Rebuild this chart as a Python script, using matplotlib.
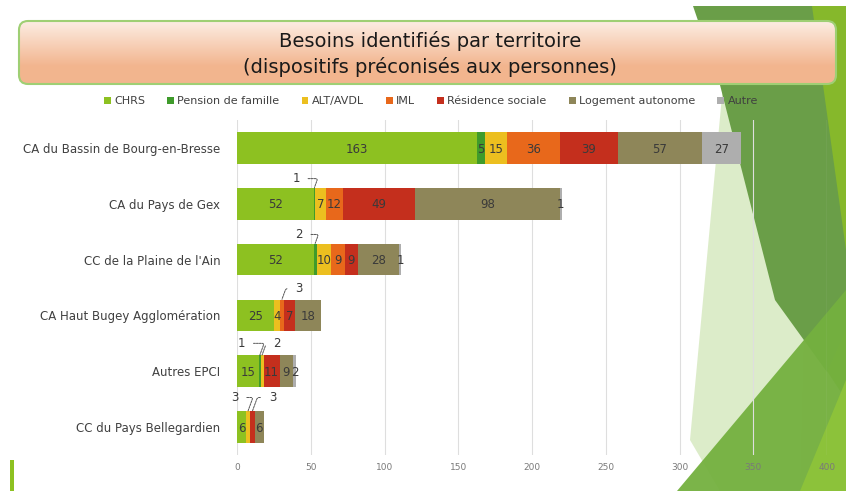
import matplotlib
matplotlib.use("Agg")
import matplotlib.pyplot as plt
import numpy as np
from matplotlib.patches import FancyBboxPatch, Polygon

plt.rcParams['font.family'] = ['DejaVu Sans']

territoires = ["CA du Bassin de Bourg-en-Bresse", "CA du Pays de Gex",
               "CC de la Plaine de l'Ain", "CA Haut Bugey Agglomération",
               "Autres EPCI", "CC du Pays Bellegardien"]
categories = ["CHRS", "Pension de famille", "ALT/AVDL", "IML",
              "Résidence sociale", "Logement autonome", "Autre"]
chrs = [163, 52, 52, 25, 15, 6]
pension = [5, 1, 2, 0, 1, 0]
alt = [15, 7, 10, 4, 2, 3]
iml = [36, 12, 9, 3, 0, 0]
residence = [39, 49, 9, 7, 11, 3]
logement = [57, 98, 28, 18, 9, 6]
autre = [27, 1, 1, 0, 2, 0]
couleurs = ["#8dc121", "#3f9b2b", "#ecbf1f", "#e8681b", "#c42f1d", "#8e8659", "#aeaeae"]
xticks = [0, 50, 100, 150, 200, 250, 300, 350, 400]

series = [chrs, pension, alt, iml, residence, logement, autre]

# (ligne, serie) : valeurs affichées avec une ligne de rappel
rappels = {(1, 1): (40, -0.45), (2, 1): (42, -0.45), (3, 3): (42, -0.48),
           (4, 1): (3, -0.5), (4, 2): (27, -0.5), (5, 2): (-1.5, -0.53),
           (5, 4): (24, -0.53)}

W, H = 846, 491
fig = plt.figure(figsize=(W / 100, H / 100), dpi=100)

# fond de la diapo (formes vertes) et cadre du titre
bg = fig.add_axes([0, 0, 1, 1], zorder=0)
bg.axis("off")
formes = [
    ([(812, 6), (846, 6), (846, 491), (800, 491)], "#86b82b", 1.0),
    ([(723, 85), (800, 330), (846, 400), (846, 491), (720, 491), (690, 440)], "#d9eac4", 0.9),
    ([(693, 6), (812, 6), (846, 250), (846, 330), (827, 372), (775, 300), (720, 85)],
     "#6a9e48", 1.0),
    ([(846, 290), (846, 491), (677, 491)], "#74b03f", 0.95),
    ([(846, 380), (846, 491), (800, 491)], "#8cc23a", 1.0),
    ([(10, 460), (14, 460), (14, 491), (10, 491)], "#8dc121", 1.0),
]
for pts, c, a in formes:
    bg.add_patch(Polygon(pts, closed=True, facecolor=c, edgecolor="none", alpha=a))

box = FancyBboxPatch((19, 21), 817, 63, boxstyle="round,pad=0,rounding_size=9",
                     facecolor="none", edgecolor="#9fcf74", linewidth=1.5, zorder=3)
bg.add_patch(box)
grad = np.linspace(0, 1, 100).reshape(-1, 1)
top = np.array([0.99, 0.93, 0.89])
bot = np.array([0.95, 0.71, 0.56])
img = top + (bot - top) * np.clip(grad * 1.4, 0, 1)[:, :, None]
im = bg.imshow(img, extent=(19, 836, 84, 21), aspect="auto", zorder=2)
im.set_clip_path(box)
bg.set_xlim(0, W)
bg.set_ylim(H, 0)
bg.text(430, 41, "Besoins identifiés par territoire", ha="center", va="center",
        fontsize=14, color="#1a1a1a", zorder=4)
bg.text(430, 67, "(dispositifs préconisés aux personnes)", ha="center", va="center",
        fontsize=14, color="#1a1a1a", zorder=4)

# graphique
ax = fig.add_axes([237 / W, 1 - 455 / H, 590 / W, 335 / H], zorder=1)
ax.patch.set_alpha(0)
y = np.arange(len(territoires))
gauche = np.zeros(len(territoires))
for j, (vals, nom, c) in enumerate(zip(series, categories, couleurs)):
    vals = np.array(vals, dtype=float)
    ax.barh(y, vals, left=gauche, height=0.57, color=c, label=nom, zorder=2)
    for i, v in enumerate(vals):
        if v <= 0:
            continue
        if (i, j) in rappels:
            xt, dy = rappels[(i, j)]
            ax.annotate(f"{int(v)}", xy=(gauche[i] + v / 2, i - 0.29), xytext=(xt, i + dy),
                        fontsize=8.5, color="#3a3a3a", ha="center", va="center", zorder=4,
                        arrowprops=dict(arrowstyle="-", color="#555555", lw=0.7,
                                        linestyle=(0, (2, 1)), shrinkA=4, shrinkB=0,
                                        connectionstyle="angle,angleA=0,angleB=70,rad=2"))
        else:
            ax.text(gauche[i] + v / 2, i + 0.02, f"{int(v)}", ha="center", va="center",
                    fontsize=8.5, color="#3a3a3a", zorder=3)
    gauche += vals

ax.set_xlim(0, 400)
ax.set_ylim(len(territoires) - 0.5, -0.5)
ax.set_xticks(xticks)
ax.set_xticklabels([str(t) for t in xticks], fontsize=6.5, color="#7a7a7a")
ax.set_yticks(y)
ax.set_yticklabels(territoires, fontsize=8.5, color="#404040")
ax.tick_params(axis="x", length=0, pad=6)
ax.tick_params(axis="y", length=0, pad=12)
ax.xaxis.grid(True, color="#dedede", linewidth=0.8, zorder=0)
for s in ax.spines.values():
    s.set_visible(False)

fig.legend(loc="center", bbox_to_anchor=(431 / W, 1 - 101 / H), ncol=7, frameon=False,
           fontsize=8, handlelength=0.6, handleheight=0.6, handletextpad=0.3,
           columnspacing=2.0, labelcolor="#404040")

fig.savefig("out.png", dpi=100)
